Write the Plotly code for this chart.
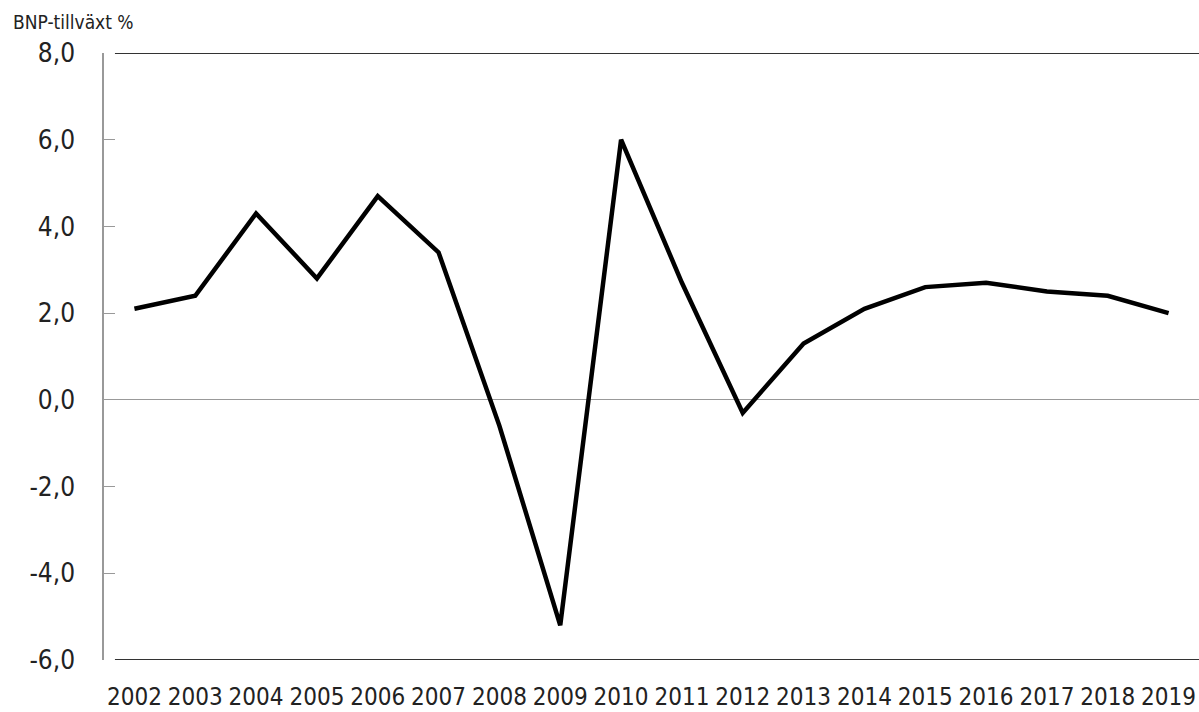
import plotly.graph_objects as go

years = ["2002", "2003", "2004", "2005", "2006", "2007", "2008", "2009", "2010",
         "2011", "2012", "2013", "2014", "2015", "2016", "2017", "2018", "2019"]
growth = [2.1, 2.4, 4.3, 2.8, 4.7, 3.4, -0.6, -5.2, 6.0,
          2.7, -0.3, 1.3, 2.1, 2.6, 2.7, 2.5, 2.4, 2.0]
y_ticks = [-6, -4, -2, 0, 2, 4, 6, 8]
y_tick_labels = ["-6,0", "-4,0", "-2,0", "0,0", "2,0", "4,0", "6,0", "8,0"]
y_title = "BNP-tillväxt %"

FONT = "DejaVu Sans Condensed, Liberation Sans Narrow, sans-serif"

fig = go.Figure()
fig.add_trace(go.Scatter(x=years, y=growth, mode="lines",
                         line=dict(color="#000000", width=4.5),
                         showlegend=False, hoverinfo="x+y"))

fig.update_layout(
    width=1199, height=712,
    margin=dict(l=104, r=0, t=53, b=52, autoexpand=False),
    paper_bgcolor="white", plot_bgcolor="white",
    font=dict(family=FONT, color="#222222"),
    xaxis=dict(type="category", range=[-0.5, len(years) - 0.5],
               showgrid=False, showline=False, zeroline=False,
               automargin=False, tickangle=0,
               ticks="", tickfont=dict(size=24, family=FONT, color="#222222"),
               ticklabelstandoff=20),
    yaxis=dict(range=[-6, 8], tickvals=y_ticks, ticktext=y_tick_labels,
               automargin=False,
               showgrid=False, zeroline=True, zerolinecolor="#999999", zerolinewidth=1.2,
               showline=True, linecolor="#999999", linewidth=1.5,
               ticks="inside", ticklen=11, tickcolor="#999999", tickwidth=1.2,
               tickfont=dict(size=26, family=FONT, color="#222222"),
               ticklabelstandoff=22),
    shapes=[
        dict(type="line", xref="paper", yref="y", x0=0.01, x1=1, y0=8, y1=8,
             line=dict(color="#333333", width=2)),
        dict(type="line", xref="paper", yref="y", x0=0.01, x1=1, y0=-6, y1=-6,
             line=dict(color="#333333", width=2)),
    ],
    annotations=[
        dict(text=y_title, xref="paper", yref="paper", x=-0.085, y=1.0, yshift=31,
             xanchor="left", yanchor="middle", showarrow=False,
             font=dict(size=19, family=FONT, color="#222222")),
    ],
)

fig.write_html("out.html", config={"displayModeBar": False},
               post_script="document.body.style.margin='0';document.body.style.overflow='hidden';")
